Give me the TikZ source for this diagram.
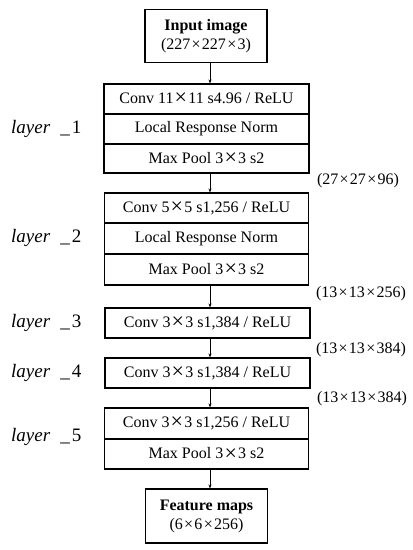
\documentclass[tikz,border=0pt]{standalone}
\usepackage{fontspec}
\setmainfont{Liberation Serif}
\usetikzlibrary{arrows.meta}
\newcommand{\bx}{\hspace{1.2pt}\raisebox{-1.2pt}{\fontsize{22}{18}\selectfont ×}\hspace{1.2pt}}
\newcommand{\sx}{\hspace{1.3pt}×\hspace{1.3pt}}
\begin{document}
\begin{tikzpicture}[x=1pt,y=-1pt,
  row/.style={draw,line width=1.1pt,minimum width=204pt,minimum height=30pt,inner sep=0pt,
    font=\fontsize{16}{18}\selectfont},
  endbox/.style={draw,line width=1.1pt,minimum width=122pt,minimum height=53pt,inner sep=0pt,
    align=center,font=\fontsize{16}{19}\selectfont},
  dimlabel/.style={font=\fontsize{16}{18}\selectfont,inner sep=0pt},
  laylabel/.style={font=\fontsize{19}{20}\selectfont,inner sep=0pt,anchor=west},
  arr/.style={line width=0.6pt,-{Stealth[length=4pt,width=3pt]}}]
\useasboundingbox (0,0) rectangle (413,550);
% input
\node[endbox] (in) at (206,36) {\textbf{Input image}\\(227\sx227\sx3)};
% layer 1
\node[row,minimum width=205pt] (l1a) at (206.5,99) {Conv 11\bx11 s4.96 / ReLU};
\node[row,minimum width=205pt] (l1b) at (206.5,129) {Local Response Norm};
\node[row,minimum width=205pt,minimum height=29pt] (l1c) at (206.5,158.5) {Max Pool 3\bx3 s2};
% layer 2
\node[row] (l2a) at (206.5,208) {Conv 5\bx5 s1,256 / ReLU};
\node[row,minimum height=31pt] (l2b) at (206.5,238.5) {Local Response Norm};
\node[row,minimum height=31pt] (l2c) at (206.5,269.5) {Max Pool 3\bx3 s2};
% layer 3
\node[row,minimum width=205pt] (l3) at (207.5,323) {Conv 3\bx3 s1,384 / ReLU};
% layer 4
\node[row,minimum width=205pt] (l4) at (207.5,373) {Conv 3\bx3 s1,384 / ReLU};
% layer 5
\node[row,minimum height=31pt] (l5a) at (206.5,423.5) {Conv 3\bx3 s1,256 / ReLU};
\node[row] (l5b) at (206.5,454) {Max Pool 3\bx3 s2};
% output
\node[endbox,minimum height=54pt] (out) at (206.5,516) {\textbf{Feature maps}\\(6\sx6\sx256)};
% arrows
\draw[arr] ([xshift=4pt]in.south) -- ([xshift=3.5pt]l1a.north);
\draw[arr] ([xshift=3.5pt]l1c.south) -- ([xshift=3.5pt]l2a.north);
\draw[arr] ([xshift=3.5pt]l2c.south) -- ([xshift=2.5pt]l3.north);
\draw[arr] ([xshift=2.5pt]l3.south) -- ([xshift=2.5pt]l4.north);
\draw[arr] ([xshift=2.5pt]l4.south) -- ([xshift=3.5pt]l5a.north);
\draw[arr] ([xshift=3.5pt]l5b.south) -- ([xshift=3.5pt]out.north);
% dimension labels
\node[dimlabel] (d1) at (358,181) {(27\sx27\sx96)};
\node[dimlabel] (d2) at (361,294) {(13\sx13\sx256)};
\node[dimlabel] (d3) at (361,350) {(13\sx13\sx384)};
\node[dimlabel] (d4) at (362,399) {(13\sx13\sx384)};
% layer labels
\node[laylabel] (n1) at (11,129) {\textit{layer}\hspace{10pt}\_\hspace{2pt}1};
\node[laylabel] (n2) at (11,238) {\textit{layer}\hspace{10pt}\_\hspace{2pt}2};
\node[laylabel] (n3) at (11,323) {\textit{layer}\hspace{10pt}\_\hspace{2pt}3};
\node[laylabel] (n4) at (11,373) {\textit{layer}\hspace{10pt}\_\hspace{2pt}4};
\node[laylabel] (n5) at (11,437) {\textit{layer}\hspace{10pt}\_\hspace{2pt}5};
\end{tikzpicture}
\end{document}
